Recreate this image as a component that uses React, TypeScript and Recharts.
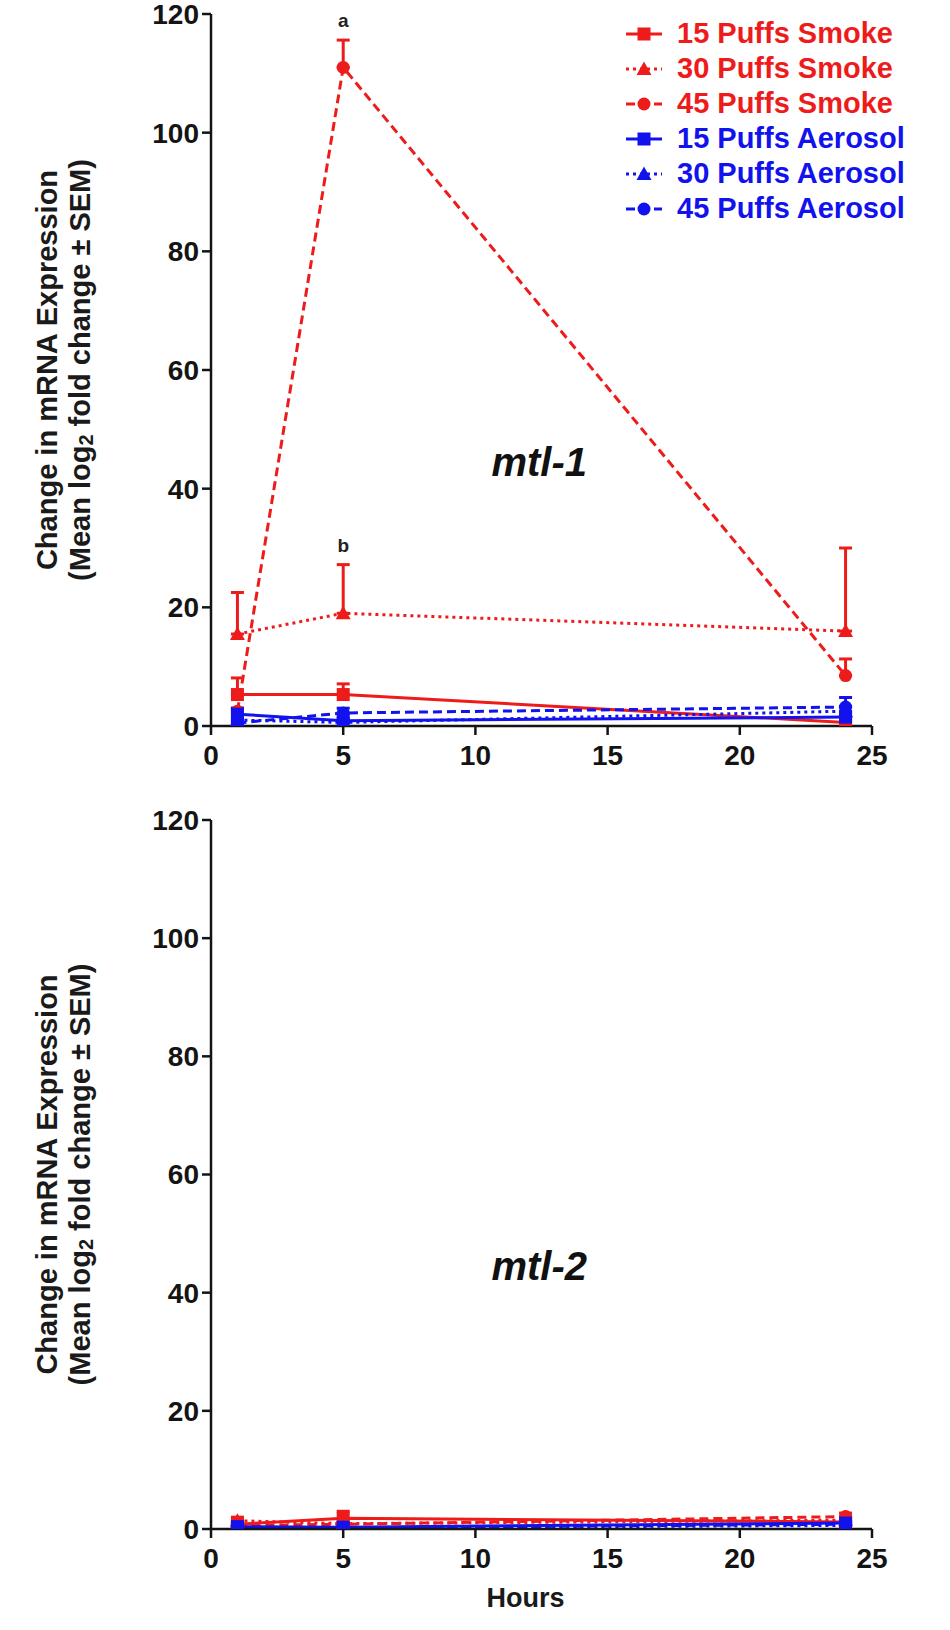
import React from 'react';
import { LineChart, Line, XAxis, YAxis, ErrorBar, ReferenceDot } from 'recharts';

// ---------- data ----------
const hours = [1, 5, 24];
const xTicks = [0, 5, 10, 15, 20, 25];
const yTicks = [0, 20, 40, 60, 80, 100, 120];

// mtl-1
const mtl1Smoke15 = [5.3, 5.3, 0.6];
const mtl1Smoke15Err = [2.8, 1.8, 0.4];
const mtl1Smoke30 = [15.5, 19.0, 16.0];
const mtl1Smoke30Err = [7.0, 8.2, 14.0];
const mtl1Smoke45 = [2.5, 111.0, 8.5];
const mtl1Smoke45Err = [0.5, 4.6, 2.8];
const mtl1Aerosol15 = [2.0, 0.9, 1.5];
const mtl1Aerosol15Err = [1.0, 0.4, 0.6];
const mtl1Aerosol30 = [1.0, 0.6, 2.5];
const mtl1Aerosol30Err = [0.4, 0.3, 0.8];
const mtl1Aerosol45 = [0.5, 2.2, 3.2];
const mtl1Aerosol45Err = [0.3, 0.8, 1.6];

// mtl-2
const mtl2Smoke15 = [0.8, 1.8, 1.2];
const mtl2Smoke15Err = [0.3, 1.2, 0.3];
const mtl2Smoke30 = [1.4, 0.9, 1.5];
const mtl2Smoke30Err = [0.6, 0.3, 0.4];
const mtl2Smoke45 = [0.6, 0.8, 2.1];
const mtl2Smoke45Err = [0.2, 0.3, 0.6];
const mtl2Aerosol15 = [0.4, 0.3, 1.0];
const mtl2Aerosol15Err = [0.3, 0.2, 0.3];
const mtl2Aerosol30 = [0.3, 0.2, 0.6];
const mtl2Aerosol30Err = [0.2, 0.1, 0.2];
const mtl2Aerosol45 = [0.2, 0.2, 0.8];
const mtl2Aerosol45Err = [0.1, 0.1, 0.3];

const seriesNames = [
  '15 Puffs Smoke',
  '30 Puffs Smoke',
  '45 Puffs Smoke',
  '15 Puffs Aerosol',
  '30 Puffs Aerosol',
  '45 Puffs Aerosol',
];

// ---------- styles ----------
const RED = '#ee1b1b';
const BLUE = '#1212ee';
const FONT = '"Liberation Sans", Arial, sans-serif';
const AXIS = '#141414';

type Shape = 'square' | 'triangle' | 'circle';
const seriesStyle: { key: string; color: string; dash?: string; shape: Shape; width: number }[] = [
  { key: 's15', color: RED, shape: 'square', width: 3 },
  { key: 's30', color: RED, dash: '3 4', shape: 'triangle', width: 3 },
  { key: 's45', color: RED, dash: '9 5', shape: 'circle', width: 3 },
  { key: 'a15', color: BLUE, shape: 'square', width: 3 },
  { key: 'a30', color: BLUE, dash: '3 4', shape: 'triangle', width: 3 },
  { key: 'a45', color: BLUE, dash: '9 5', shape: 'circle', width: 3 },
];

function buildRows(vals: number[][], errs: number[][]) {
  return hours.map((h, i) => {
    const row: any = { hour: h };
    seriesStyle.forEach((s, k) => {
      row[s.key] = vals[k][i];
      row[s.key + 'e'] = [0, errs[k][i]];
    });
    return row;
  });
}

const mtl1Rows = buildRows(
  [mtl1Smoke15, mtl1Smoke30, mtl1Smoke45, mtl1Aerosol15, mtl1Aerosol30, mtl1Aerosol45],
  [mtl1Smoke15Err, mtl1Smoke30Err, mtl1Smoke45Err, mtl1Aerosol15Err, mtl1Aerosol30Err, mtl1Aerosol45Err]
);
const mtl2Rows = buildRows(
  [mtl2Smoke15, mtl2Smoke30, mtl2Smoke45, mtl2Aerosol15, mtl2Aerosol30, mtl2Aerosol45],
  [mtl2Smoke15Err, mtl2Smoke30Err, mtl2Smoke45Err, mtl2Aerosol15Err, mtl2Aerosol30Err, mtl2Aerosol45Err]
);

function MarkerShape({ shape, cx, cy, color }: { shape: Shape; cx: number; cy: number; color: string }) {
  if (shape === 'square') return <rect x={cx - 6.5} y={cy - 6.5} width={13} height={13} fill={color} />;
  if (shape === 'triangle')
    return <polygon points={`${cx},${cy - 7.5} ${cx + 7.5},${cy + 6} ${cx - 7.5},${cy + 6}`} fill={color} />;
  return <circle cx={cx} cy={cy} r={6.5} fill={color} />;
}

const makeDot = (shape: Shape, color: string) => (props: any) => {
  const { cx, cy, index } = props;
  if (cx == null || cy == null) return <g key={`d${index}`} />;
  return (
    <g key={`d${index}`}>
      <MarkerShape shape={shape} cx={cx} cy={cy} color={color} />
    </g>
  );
};

const tickStyle = { fontSize: 28, fontWeight: 700, fill: AXIS, fontFamily: FONT };

function YLabel(props: any) {
  const vb = props.viewBox || {};
  const cy = vb.y + vb.height / 2;
  const x1 = 47;
  const x2 = 80;
  return (
    <g fontFamily={FONT} fontWeight={700} fontSize={29} fill="#1a1a1a">
      <text x={x1} y={cy} transform={`rotate(-90 ${x1} ${cy})`} textAnchor="middle" dominantBaseline="central">
        Change in mRNA Expression
      </text>
      <text x={x2} y={cy} transform={`rotate(-90 ${x2} ${cy})`} textAnchor="middle" dominantBaseline="central">
        (Mean log<tspan dy={6} fontSize={20}>2</tspan>
        <tspan dy={-6}> fold change ± SEM)</tspan>
      </text>
    </g>
  );
}

function HoursLabel(props: any) {
  const vb = props.viewBox || {};
  const cx = vb.x + vb.width / 2 - 16;
  return (
    <text x={cx} y={vb.y + 69} textAnchor="middle" dominantBaseline="central" fontFamily={FONT} fontWeight={700} fontSize={27} fill="#1a1a1a">
      Hours
    </text>
  );
}

function LegendBox() {
  return (
    <div style={{ position: 'absolute', top: 16, left: 622, width: 328, fontFamily: FONT, fontWeight: 700, fontSize: 29 }}>
      {seriesStyle.map((s, i) => (
        <div key={s.key} style={{ height: 35, display: 'flex', alignItems: 'center', color: s.color, whiteSpace: 'nowrap' }}>
          <svg width={44} height={20} style={{ marginRight: 11 }}>
            <line x1={4} y1={10} x2={40} y2={10} stroke={s.color} strokeWidth={s.width} strokeDasharray={s.dash} />
            <MarkerShape shape={s.shape} cx={22} cy={10} color={s.color} />
          </svg>
          <span>{seriesNames[i]}</span>
        </div>
      ))}
    </div>
  );
}

function GeneLabel(props: any) {
  const vb = props.viewBox || {};
  const cx = vb.cx ?? vb.x;
  const cy = vb.cy ?? vb.y;
  return (
    <text x={cx} y={cy} textAnchor="middle" dominantBaseline="central" fontFamily={FONT} fontWeight={700} fontStyle="italic" fontSize={40} fill="#111">
      {props.value}
    </text>
  );
}

function Panel({
  rows,
  height,
  margin,
  xHeight,
  gene,
  showHours,
  letters,
}: {
  rows: any[];
  height: number;
  margin: any;
  xHeight: number;
  gene: string;
  showHours: boolean;
  letters: { y: number; t: string }[];
}) {
  return (
    <LineChart width={950} height={height} data={rows} margin={margin}>
      <XAxis
        type="number"
        dataKey="hour"
        domain={[0, 25]}
        ticks={xTicks}
        interval={0}
        height={xHeight}
        tick={tickStyle}
        tickSize={9}
        tickMargin={10}
        axisLine={{ stroke: AXIS, strokeWidth: 2.5 }}
        tickLine={{ stroke: AXIS, strokeWidth: 2.5 }}
        allowDataOverflow
        label={showHours ? <HoursLabel /> : undefined}
      />
      <YAxis
        type="number"
        domain={[0, 120]}
        ticks={yTicks}
        interval={0}
        width={211}
        tick={tickStyle}
        tickSize={9}
        tickMargin={3}
        axisLine={{ stroke: AXIS, strokeWidth: 2.5 }}
        tickLine={{ stroke: AXIS, strokeWidth: 2.5 }}
        allowDataOverflow
        label={<YLabel />}
      />
      {seriesStyle.map((s, i) => (
        <Line
          key={s.key}
          name={seriesNames[i]}
          type="linear"
          dataKey={s.key}
          stroke={s.color}
          strokeWidth={s.width}
          strokeDasharray={s.dash}
          dot={makeDot(s.shape, s.color)}
          activeDot={false}
          isAnimationActive={false}
        >
          <ErrorBar dataKey={s.key + 'e'} direction="y" width={6.5} strokeWidth={3} stroke={s.color} isAnimationActive={false} />
        </Line>
      ))}
      {letters.map((l) => (
        <ReferenceDot
          key={l.t}
          x={5}
          y={l.y}
          r={1}
          fill="none"
          stroke="none"
          label={{ value: l.t, position: 'top', offset: 12, fontSize: 19, fontWeight: 700, fill: '#222', fontFamily: FONT }}
        />
      ))}
      <ReferenceDot x={12.45} y={44.3} r={1} fill="none" stroke="none" label={<GeneLabel value={gene} />} />
    </LineChart>
  );
}

export default function App() {
  return (
    <div style={{ position: 'absolute', left: 0, top: 0, width: 950, height: 1630, background: '#fff' }}>
      <div style={{ position: 'absolute', left: 0, top: 0 }}>
        <Panel
          rows={mtl1Rows}
          height={780}
          margin={{ top: 14, right: 78, bottom: 14, left: 0 }}
          xHeight={40}
          gene="mtl-1"
          showHours={false}
          letters={[
            { y: mtl1Smoke45[1] + mtl1Smoke45Err[1], t: 'a' },
            { y: mtl1Smoke30[1] + mtl1Smoke30Err[1], t: 'b' },
          ]}
        />
      </div>
      <LegendBox />
      <div style={{ position: 'absolute', left: 0, top: 780 }}>
        <Panel
          rows={mtl2Rows}
          height={850}
          margin={{ top: 40, right: 78, bottom: 21, left: 0 }}
          xHeight={80}
          gene="mtl-2"
          showHours
          letters={[]}
        />
      </div>
    </div>
  );
}
